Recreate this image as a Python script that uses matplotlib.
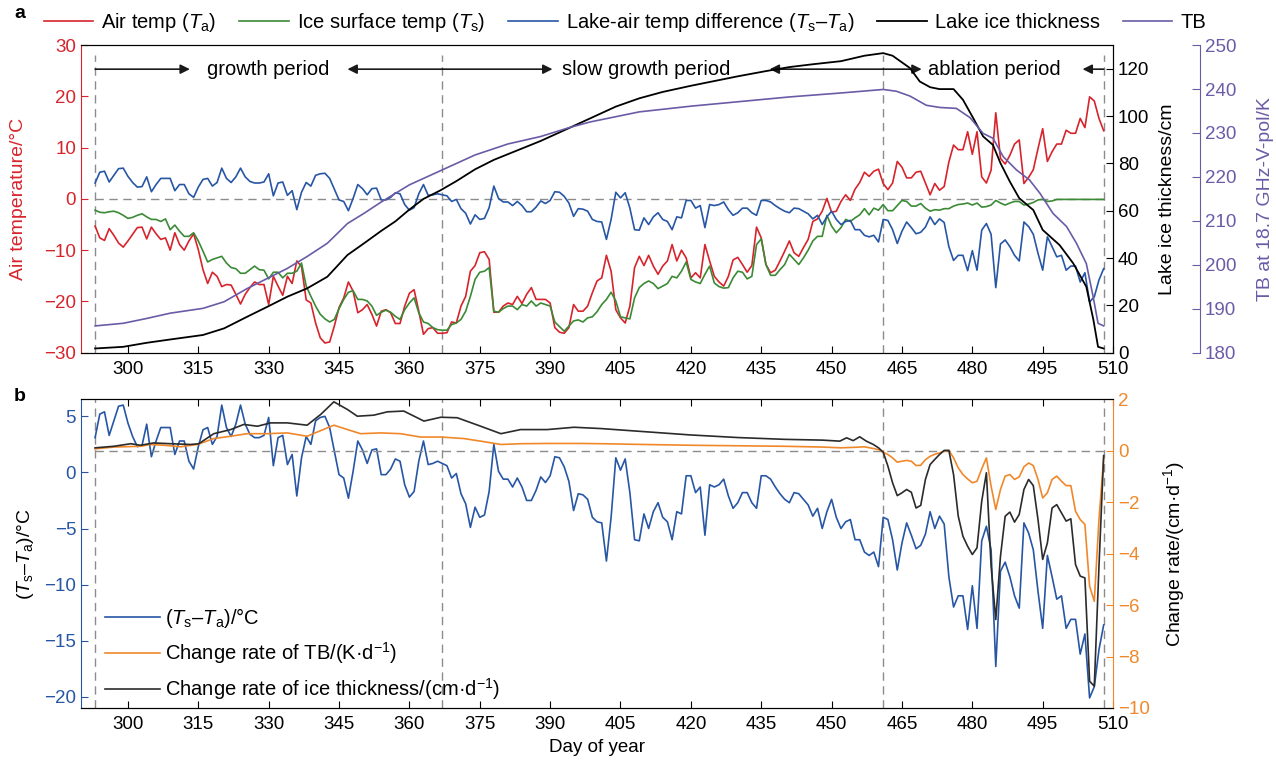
import numpy as np
import matplotlib.pyplot as plt

plt.rcParams['font.family'] = 'Liberation Sans'
plt.rcParams['mathtext.fontset'] = 'custom'
plt.rcParams['mathtext.rm'] = 'Liberation Sans'
plt.rcParams['mathtext.it'] = 'Liberation Sans:italic'
plt.rcParams['font.size'] = 13.5

# ---- daily series, day of year 293..508 ----
day = np.arange(293, 509)

air_temp = [-5.3, -7.6, -8.1, -5.8, -7.1, -8.6, -9.4, -8.2, -6.9, -5.6,
            -5.5, -7.8, -5.5, -6.8, -7.9, -7.6, -10.0, -6.6, -8.9, -10.0,
            -8.2, -6.8, -9.9, -13.8, -16.5, -14.3, -15.1, -17.1, -16.7, -16.8,
            -18.6, -20.5, -18.6, -17.3, -16.2, -16.7, -16.7, -20.6, -15.1, -17.0,
            -18.8, -15.1, -16.5, -12.1, -13.2, -19.7, -20.3, -24.2, -27.1, -28.1,
            -27.9, -24.8, -21.2, -19.3, -16.2, -18.0, -22.2, -21.6, -20.6, -22.5,
            -24.8, -21.9, -21.6, -22.2, -24.3, -24.3, -20.9, -18.4, -17.7, -21.9,
            -26.4, -25.3, -25.1, -26.2, -26.2, -26.1, -24.0, -24.2, -20.9, -19.0,
            -14.1, -13.0, -10.5, -10.3, -11.8, -22.1, -22.1, -20.9, -20.3, -20.6,
            -19.0, -20.4, -18.6, -17.3, -19.6, -19.6, -19.6, -20.3, -25.1, -26.0,
            -26.2, -25.1, -20.6, -21.9, -21.9, -20.9, -18.3, -16.0, -15.4, -11.0,
            -14.1, -21.6, -23.2, -24.2, -20.9, -13.4, -11.2, -13.0, -11.0, -13.1,
            -14.7, -13.1, -12.1, -8.9, -12.1, -10.0, -11.5, -15.4, -14.4, -15.4,
            -8.9, -12.1, -15.1, -16.2, -17.0, -15.1, -11.9, -11.4, -12.8, -14.3,
            -13.0, -5.5, -7.6, -12.8, -14.4, -13.9, -12.1, -10.2, -8.2, -10.5,
            -11.2, -9.5, -7.9, -4.4, -3.9, -2.4, 0.1, -2.6, -2.4, -0.5,
            0.8, -0.3, 1.9, 3.2, 5.2, 4.4, 5.4, 5.8, 3.0, 1.8,
            3.1, 7.3, 6.2, 4.1, 4.1, 5.2, 5.4, 3.1, 0.8, 3.0,
            1.7, 2.4, 7.2, 10.5, 9.6, 9.6, 13.1, 8.7, 13.1, 4.3,
            3.1, 5.6, 16.8, 7.9, 6.8, 8.5, 10.7, 11.5, 3.0, 4.2,
            5.7, 9.8, 13.7, 7.3, 9.2, 10.7, 10.7, 13.4, 12.8, 12.8,
            15.7, 13.9, 19.9, 19.1, 15.7, 13.3]

ice_temp = [-2.2, -2.6, -2.7, -2.5, -2.4, -2.7, -3.2, -3.8, -3.6, -3.2,
            -2.9, -3.5, -4.0, -4.0, -4.4, -3.9, -6.0, -5.1, -6.3, -7.3,
            -7.3, -6.6, -8.2, -10.2, -12.3, -11.8, -11.5, -11.2, -12.5, -13.4,
            -13.6, -14.5, -14.5, -13.8, -13.1, -13.8, -13.9, -15.6, -14.3, -14.3,
            -15.4, -14.5, -14.5, -14.1, -12.5, -17.0, -19.0, -20.9, -22.5, -23.4,
            -24.0, -23.5, -21.4, -19.6, -18.2, -17.9, -19.6, -19.6, -19.9, -20.9,
            -22.7, -22.1, -21.7, -22.1, -22.9, -23.5, -21.6, -20.3, -19.3, -22.2,
            -24.0, -24.3, -25.1, -25.5, -25.6, -25.6, -24.5, -24.2, -23.5, -21.9,
            -19.0, -15.7, -14.3, -14.1, -13.4, -21.9, -22.1, -21.4, -20.9, -20.9,
            -21.6, -20.6, -20.9, -19.9, -20.9, -20.3, -20.6, -20.9, -24.0, -24.9,
            -25.8, -24.8, -23.8, -23.6, -24.0, -23.2, -23.0, -22.0, -20.6, -19.6,
            -18.2, -19.9, -23.0, -23.2, -23.4, -19.3, -17.3, -16.5, -16.0, -16.5,
            -17.5, -17.0, -16.5, -15.1, -15.4, -14.1, -12.3, -15.7, -16.2, -16.5,
            -14.7, -13.1, -16.4, -17.1, -17.4, -17.3, -15.4, -14.1, -14.3, -15.6,
            -15.1, -8.9, -7.8, -12.8, -14.9, -14.9, -13.8, -12.8, -10.8, -11.8,
            -12.8, -11.5, -10.0, -8.2, -7.3, -7.3, -3.2, -5.3, -6.6, -5.6,
            -4.0, -4.4, -3.7, -3.1, -1.9, -3.1, -1.8, -2.2, -1.1, -2.3,
            -2.3, -1.3, -0.3, -0.5, -1.4, -1.4, -0.9, -1.8, -2.4, -2.1,
            -2.2, -1.9, -1.9, -1.4, -1.1, -1.0, -0.8, -1.2, -0.8, -1.6,
            -1.5, -1.2, -0.3, -0.8, -1.2, -0.8, -0.5, -0.5, -1.2, -1.0,
            -0.7, -0.2, -0.1, -0.5, -0.4, -0.1, -0.1, -0.1, -0.1, -0.1,
            -0.1, -0.1, -0.1, -0.1, -0.1, -0.1]

temp_diff = [3.1, 5.2, 5.4, 3.3, 4.6, 5.9, 6.0, 4.4, 3.2, 2.3,
             2.4, 4.3, 1.4, 2.8, 4.0, 4.0, 4.0, 1.6, 2.8, 2.8,
             1.0, 0.3, 2.3, 3.8, 4.0, 2.5, 3.2, 6.0, 4.0, 3.2,
             4.3, 6.0, 4.3, 3.4, 3.1, 3.1, 3.3, 4.9, 0.6, 3.1,
             3.3, 0.7, 1.6, -2.1, 1.3, 3.2, 2.5, 4.6, 4.9, 5.0,
             4.0, 1.9, -0.2, -0.5, -2.3, 0.1, 2.8, 2.0, 0.8, 2.0,
             2.1, -0.2, -0.2, 0.3, 1.2, 1.0, -1.1, -2.2, -1.7, 1.0,
             2.8, 0.7, 0.8, 1.0, 0.8, 0.6, -0.5, -0.1, -1.9, -2.8,
             -4.9, -3.1, -4.0, -3.8, -1.7, 2.5, 0.1, -0.6, -0.6, -1.3,
             -0.5, -1.3, -2.5, -2.5, -1.6, -0.4, -0.9, -0.3, 1.4, 1.3,
             0.5, -0.8, -3.4, -1.9, -2.0, -2.4, -4.0, -4.4, -4.5, -7.9,
             -4.0, 1.3, 0.2, 1.2, -1.8, -6.0, -6.1, -3.7, -5.0, -3.5,
             -2.7, -4.0, -4.4, -6.0, -3.5, -3.7, -0.3, -0.3, -1.8, -1.3,
             -5.6, -1.1, -1.3, -1.1, -0.6, -2.1, -3.2, -2.7, -1.8, -1.8,
             -2.7, -3.2, -0.3, -0.3, -0.6, -1.3, -1.9, -2.4, -2.7, -1.8,
             -1.9, -2.4, -2.9, -3.9, -3.2, -5.0, -3.5, -2.4, -4.0, -5.0,
             -4.4, -4.2, -6.0, -6.0, -7.1, -7.4, -7.1, -8.4, -4.0, -4.2,
             -6.0, -8.7, -6.3, -4.5, -5.6, -6.8, -6.5, -5.5, -3.5, -5.0,
             -3.9, -4.6, -9.3, -12.0, -11.0, -11.0, -14.0, -10.1, -13.9, -6.1,
             -4.8, -6.9, -17.3, -8.8, -8.0, -9.3, -11.0, -12.1, -4.5, -5.4,
             -6.9, -10.6, -13.9, -7.4, -9.3, -11.3, -11.0, -13.9, -13.1, -13.1,
             -16.2, -14.4, -20.1, -19.1, -15.8, -13.6]

# ---- smooth series ----
thick_day = [293, 299, 304, 309, 316, 320.5, 325.4, 329.7, 334, 338.2, 342.5, 346.8,
             350.3, 354, 357, 360, 363, 366.5, 370, 374, 378, 383, 388, 393, 398.5,
             404, 409, 414, 420, 425, 430, 436, 441, 446, 452, 457, 461, 463, 466.7,
             468.8, 471, 473, 476, 478, 480.2, 482.3, 484.4, 486, 488, 490, 493, 495,
             498.6, 501.5, 504.3, 505.8, 506.8, 508]
thickness = [1.8, 2.5, 4.2, 5.6, 7.5, 10.3, 15.2, 19.4, 23.7, 27.2, 32.1, 41.3,
             46.2, 51.5, 55.5, 60.5, 65.0, 68.5, 72.5, 77.5, 81.5, 85.5, 89.5, 94.0, 99.0,
             104.0, 107.5, 110.2, 112.8, 114.8, 116.8, 119.0, 120.7, 121.9, 123.2, 125.5, 126.6, 125.5, 120.3,
             114.6, 112.2, 111.4, 111.4, 106.9, 99.1, 91.4, 87.8, 80.1, 72.3, 65.3, 60.3, 51.9,
             45.5, 37.8, 27.9, 14.0, 2.5, 1.8]

tb_day = [293, 299, 304, 309, 316, 320.5, 325.4, 329.7, 334, 338.2, 342.5, 346.8,
          350.3, 354, 360, 367, 374, 381, 388, 394, 398.5, 409, 420, 430, 441, 452,
          461, 463.8, 466.7, 470.2, 473.1, 476.6, 479.5, 482.3, 484.4, 486.6, 489.4,
          492.2, 494.4, 497.2, 500.1, 502.2, 504.3, 505.8, 506.8, 508]
tb = [186.1, 186.7, 187.8, 189.0, 190.1, 191.6, 194.6, 196.9, 199.2, 201.9, 204.9, 209.4,
      211.7, 214.3, 218.2, 221.6, 225.0, 227.5, 229.2, 231.2, 232.5, 234.8, 236.1, 237.1, 238.2, 239.1,
      239.9, 239.5, 238.4, 236.3, 235.8, 235.6, 233.5, 229.9, 228.8, 224.6, 221.6,
      219.3, 216.3, 211.7, 208.7, 204.9, 200.3, 192.5, 186.7, 186.1]

rate_tb_day = [293, 297, 302.7, 304.8, 307.7, 311.2, 314.8, 318.3, 321.9, 325.4, 329.7, 334,
               338.2, 341.1, 343.9, 346.8, 349.6, 353.9, 358.1, 362.4, 366.7, 371.6, 375.2,
               379.5, 383.7, 389.4, 396.5, 401, 410, 420, 430, 440, 448, 452, 455, 457, 459, 460,
               461, 462, 463, 464, 465, 466, 467, 468, 469, 470, 471, 472, 473, 474, 475,
               476, 477, 478, 479, 480, 481, 482, 483, 484, 485, 486, 487, 488, 489, 490,
               491, 492, 493, 494, 495, 496, 497, 498, 499, 500, 501, 502, 503, 504, 505,
               506, 507, 508]
rate_tb = [0.08, 0.15, 0.18, 0.25, 0.22, 0.16, 0.25, 0.48, 0.57, 0.67, 0.67, 0.70,
           0.57, 0.79, 1.0, 0.83, 0.67, 0.70, 0.67, 0.54, 0.54, 0.48, 0.38,
           0.25, 0.28, 0.29, 0.29, 0.28, 0.25, 0.22, 0.20, 0.18, 0.15, 0.12, 0.14, 0.16, 0.09, 0.05,
           -0.05, -0.14, -0.27, -0.44, -0.40, -0.37, -0.40, -0.57, -0.56, -0.34, -0.21, -0.13, -0.08, -0.01, 0.02,
           -0.27, -0.66, -0.92, -1.09, -1.24, -1.18, -0.70, -0.27, -1.37, -2.28, -1.50, -0.98, -0.92, -1.11, -1.01,
           -0.62, -0.47, -0.57, -1.11, -1.83, -1.63, -1.11, -0.98, -1.18, -1.35, -1.35, -2.35, -2.67, -2.86, -5.26,
           -5.85, -2.67, -0.27]

rate_h_day = [293, 297, 300.6, 302.7, 305.5, 309.1, 313.4, 315.1, 318.3, 321.9, 324.7, 327.6,
              330.4, 334, 338.2, 341.1, 343.9, 346.8, 348.9, 352.4, 355.3, 358.8, 363.1,
              366.7, 370.2, 375.2, 379.5, 383.7, 389.4, 395.1, 400.8, 410, 420, 430, 440, 448,
              451.75, 453.2, 454.6, 456, 457.4, 458.9, 460,
              461, 462, 463, 464, 465, 466, 467, 468, 469, 470, 471, 472, 473, 474, 475,
              476, 477, 478, 479, 480, 481, 482, 483, 484, 485, 486, 487, 488, 489, 490,
              491, 492, 493, 494, 495, 496, 497, 498, 499, 500, 501, 502, 503, 504, 505,
              506, 507, 508]
rate_h = [0.12, 0.18, 0.28, 0.22, 0.31, 0.28, 0.25, 0.28, 0.67, 0.83, 1.03, 0.96,
          1.09, 1.09, 1.0, 1.42, 1.91, 1.61, 1.35, 1.39, 1.52, 1.55, 1.16,
          1.31, 1.29, 0.96, 0.67, 0.83, 0.83, 0.92, 0.87, 0.75, 0.62, 0.52, 0.45, 0.42,
          0.38, 0.51, 0.40, 0.55, 0.38, 0.25, 0.12,
          -0.05, -0.59, -1.24, -1.74, -1.63, -1.50, -1.61, -2.22, -2.12, -1.11, -0.53, -0.33, -0.14, 0.02, 0.02,
          -0.92, -2.54, -3.32, -3.71, -4.03, -3.77, -1.96, -0.85, -4.48, -6.56, -4.10, -2.54, -2.38, -2.77, -2.47,
          -1.50, -1.11, -1.35, -2.67, -4.22, -3.58, -2.22, -2.09, -2.41, -2.73, -2.64, -4.42, -4.87, -4.94, -8.96,
          -9.15, -4.48, -0.18]

period_bounds = [293, 367, 461, 508]
period_names = ['growth period', 'slow growth period', 'ablation period']

c_red = '#d7242c'
c_green = '#3b8a35'
c_blue = '#2756a5'
c_purple = '#6b5ba6'
c_orange = '#f0882a'
c_dark = '#2b2b2b'
c_dash = '#8c8c8c'

fig = plt.figure(figsize=(12.76, 7.64), dpi=100)

# ================= panel a =================
ax1 = fig.add_axes([0.0635, 0.5383, 0.8088, 0.4027])
ax_h = ax1.twinx()
ax_tb = ax1.twinx()
ax_tb.spines['right'].set_position(('axes', 1.084))
for a in (ax_h, ax_tb):
    a.spines['left'].set_visible(False)
ax_tb.spines['top'].set_visible(False)
ax_tb.spines['bottom'].set_visible(False)

for d in period_bounds:
    ax1.axvline(d, ymin=0, ymax=0.968, color=c_dash, ls=(0, (6, 4)), lw=1)
ax1.hlines(0, day[0], day[-1], color=c_dash, ls=(0, (6, 4)), lw=1)

l1, = ax1.plot(day, air_temp, color=c_red, lw=1.2)
l2, = ax1.plot(day, ice_temp, color=c_green, lw=1.2)
l3, = ax1.plot(day, temp_diff, color=c_blue, lw=1.2)
l4, = ax_h.plot(thick_day, thickness, color='black', lw=1.3)
l5, = ax_tb.plot(tb_day, tb, color=c_purple, lw=1.2)

ax1.set_xlim(290, 510)
ax1.set_ylim(-30, 30)
ax1.set_yticks(range(-30, 31, 10))
ax1.set_xticks(range(300, 511, 15))
ax_h.set_ylim(0, 130)
ax_h.set_yticks(range(0, 121, 20))
ax_tb.set_ylim(180, 250)
ax_tb.set_yticks(range(180, 251, 10))

ax1.spines['left'].set_color(c_red)
ax1.tick_params(axis='y', colors=c_red, direction='in', length=5, labelsize=13.5)
ax1.tick_params(axis='x', direction='in', length=5, labelsize=13.5, pad=6)
ax_h.tick_params(axis='y', direction='in', length=5, labelsize=13.5)
ax_tb.spines['right'].set_color(c_purple)
ax_tb.tick_params(axis='y', colors=c_purple, direction='in', length=6, labelsize=13.5)

ax1.set_ylabel('Air temperature/°C', color=c_red, fontsize=14)
ax1.yaxis.set_label_coords(-0.052, 0.5)
ax_h.set_ylabel('Lake ice thickness/cm', fontsize=14)
ax_h.yaxis.set_label_coords(1.045, 0.5)
ax_tb.set_ylabel('TB at 18.7 GHz-V-pol/K', color=c_purple, fontsize=14)
ax_tb.yaxis.set_label_coords(1.139, 0.5)

# period arrows and names
arr_y = 25.3
arrows = [(period_bounds[0], 313.2), (period_bounds[1], 346.8),
          (period_bounds[1], 390.5), (period_bounds[2], 436.8),
          (period_bounds[2], 469.2), (period_bounds[3], 503.5)]
for x0, x1 in arrows:
    ax1.annotate('', xy=(x1, arr_y), xytext=(x0, arr_y),
                 arrowprops=dict(arrowstyle='-|>', color='#1a1a1a', lw=1.2,
                                 mutation_scale=14, shrinkA=0, shrinkB=0))
for name, xc in zip(period_names, [329.8, 410.5, 484.6]):
    ax1.text(xc, arr_y, name, ha='center', va='center', fontsize=14.5)

lab_a = ['Air temp ($\\mathit{T}_\\mathrm{a}$)', 'Ice surface temp ($\\mathit{T}_\\mathrm{s}$)',
         'Lake-air temp difference ($\\mathit{T}_\\mathrm{s}$–$\\mathit{T}_\\mathrm{a}$)',
         'Lake ice thickness', 'TB']
fig.legend([l1, l2, l3, l4, l5], lab_a, loc='center left', bbox_to_anchor=(0.02, 0.971),
           ncol=5, frameon=False, handlelength=2.45, columnspacing=1.15, handletextpad=0.4,
           fontsize=14.5)
fig.text(14 / 1276, 1 - 14 / 764, 'a', fontsize=14, fontweight='bold', va='center')

# ================= panel b =================
ax2 = fig.add_axes([0.0635, 0.0733, 0.8088, 0.4038])
ax2r = ax2.twinx()
ax2r.spines['left'].set_visible(False)
ax2.spines['right'].set_visible(False)

for d in period_bounds:
    ax2.axvline(d, color=c_dash, ls=(0, (6, 4)), lw=1)
ax2r.hlines(0, day[0], day[-1], color=c_dash, ls=(0, (6, 4)), lw=1)

m1, = ax2.plot(day, temp_diff, color=c_blue, lw=1.2)
m2, = ax2r.plot(rate_tb_day, rate_tb, color=c_orange, lw=1.2)
m3, = ax2r.plot(rate_h_day, rate_h, color=c_dark, lw=1.2)

ax2.set_xlim(290, 510)
ax2.set_xticks(range(300, 511, 15))
ax2.set_ylim(-21, 6.5)
ax2.set_yticks(range(-20, 6, 5))
ax2r.set_ylim(-10, 2)
ax2r.set_yticks(range(-10, 3, 2))

ax2.spines['left'].set_color(c_blue)
ax2.tick_params(axis='y', colors=c_blue, direction='in', length=5, labelsize=13.5)
ax2.tick_params(axis='x', direction='in', length=5, top=True, labelsize=13.5, pad=6)
ax2r.spines['right'].set_color(c_orange)
ax2r.tick_params(axis='y', colors=c_orange, direction='in', length=5, labelsize=13.5)

ax2.set_ylabel('($\\mathit{T}_\\mathrm{s}$–$\\mathit{T}_\\mathrm{a}$)/°C', fontsize=14)
ax2.yaxis.set_label_coords(-0.044, 0.5)
ax2r.set_ylabel('Change rate/(cm·d$^{-1}$)', fontsize=14)
ax2r.yaxis.set_label_coords(1.047, 0.5)
ax2.set_xlabel('Day of year', fontsize=13.5)
ax2.xaxis.set_label_coords(0.5, -0.102)

lab_b = ['($\\mathit{T}_\\mathrm{s}$–$\\mathit{T}_\\mathrm{a}$)/°C',
         'Change rate of TB/(K·d$^{-1}$)',
         'Change rate of ice thickness/(cm·d$^{-1}$)']
ax2r.legend([m1, m2, m3], lab_b, loc='lower left', bbox_to_anchor=(0.006, -0.04),
            frameon=False, handlelength=2.7, handletextpad=0.25, labelspacing=0.5,
            fontsize=14.5)
fig.text(14 / 1276, 1 - 396 / 764, 'b', fontsize=14, fontweight='bold', va='center')

fig.savefig('out.png', dpi=100)
